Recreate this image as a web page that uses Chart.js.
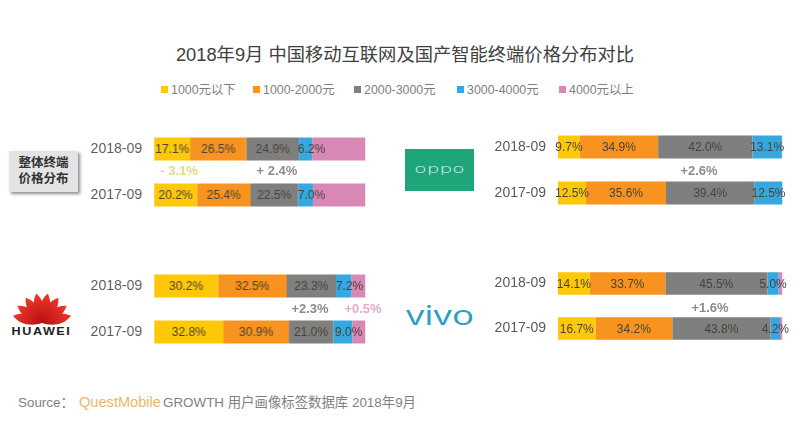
<!DOCTYPE html>
<html>
<head>
<meta charset="utf-8">
<script src="https://cdn.jsdelivr.net/npm/chart.js@4"></script>
<style>
    html, body { margin: 0; background: #fff; }
    body { position: relative; width: 800px; height: 422px; overflow: hidden; font-family: "Liberation Sans", "Noto Sans CJK SC", sans-serif; }
    .abs { position: absolute; white-space: nowrap; }
    .chartBox { position: absolute; height: 92px; }
    #title { left: 0; width: 810px; top: 43px; text-align: center; font-size: 18.3px; line-height: 24px; color: #404040; }
    #legend { left: 160px; top: 81px; font-size: 12.4px; line-height: 18px; color: #7f7f7f; }
    #legend span.item { position: absolute; top: 0; }
    #legend i { display: inline-block; width: 7px; height: 7px; margin-right: 3px; vertical-align: 1px; }
    .delta { transform: translateX(-50%); font-size: 13px; line-height: 16px; font-weight: bold; }
    #badge { left: 9px; top: 151px; width: 69px; height: 41px; background: #e4e4e4; box-shadow: 2px 2px 3px #8c8c8c; font-size: 12.5px; line-height: 16px; font-weight: bold; color: #333; text-align: center; padding-top: 4px; box-sizing: border-box; }
    #oppo { left: 405px; top: 149px; width: 69px; height: 42px; background: #1ea67a; }
    #oppo span { position: absolute; left: 0; width: 69px; top: 0; text-align: center; color: #dff3ec; font-size: 13px; line-height: 40px; font-family: "DejaVu Sans"; font-weight: 200; transform: scaleX(1.55); }
    #vivo { left: 406px; top: 297px; font-size: 27px; line-height: 36px; color: #2b9fc1; font-family: "Open Sans", sans-serif; font-weight: 400; letter-spacing: 0; transform: scaleX(1.36); transform-origin: left; }
    #huawei { left: 10px; top: 325px; width: 63px; text-align: center; font-size: 10.5px; line-height: 12px; font-weight: bold; color: #222; letter-spacing: 1.3px; transform: scaleX(1.2); }
    #source { left: 18px; top: 394px; font-size: 13.4px; line-height: 18px; color: #7f7f7f; }
    #source span { position: absolute; top: 0; }
    #source b { font-weight: normal; color: #e9b765; font-size: 14.6px; }
</style>
</head>
<body>
<div id="title" class="abs">2018年9月 中国移动互联网及国产智能终端价格分布对比</div>
<div id="legend" class="abs"></div>

<div id="badge" class="abs">整体终端<br>价格分布</div>
<div id="oppo" class="abs"><span>oppo</span></div>
<div id="vivo" class="abs">vivo</div>
<svg class="abs" style="left:10px;top:289px" width="64" height="36" viewBox="-32 -34 64 36">
    <defs>
        <linearGradient id="petal" x1="0" y1="0" x2="0" y2="1">
            <stop offset="0" stop-color="#f0382c"/>
            <stop offset="1" stop-color="#b80d12"/>
        </linearGradient>
    </defs>
    <g id="petals" fill="url(#petal)"></g>
</svg>
<div id="huawei" class="abs">HUAWEI</div>

<div class="chartBox" style="left:84px;top:125.5px;width:290.5px"><canvas id="chartAll"></canvas></div>
<div class="chartBox" style="left:487.5px;top:123.5px;width:304.5px"><canvas id="chartOppo"></canvas></div>
<div class="chartBox" style="left:84px;top:262.5px;width:290.5px"><canvas id="chartHuawei"></canvas></div>
<div class="chartBox" style="left:487.5px;top:260.5px;width:304.5px;height:90px"><canvas id="chartVivo"></canvas></div>

<div id="source" class="abs"><span style="left:0">Source：</span><span style="left:61px;top:-1px"><b>QuestMobile</b></span><span style="left:145px">GROWTH 用户画像标签数据库 2018年9月</span></div>

<script>
const periods = ['2018-09', '2017-09'];
const priceBands = ['1000元以下', '1000-2000元', '2000-3000元', '3000-4000元', '4000元以上'];
const bandColors = ['#ffc90a', '#f7931e', '#7f7f7f', '#35a8e0', '#d987b5'];

// one row per period, pink band has no printed label so it is read off the bar
const allValues = [[17.1, 26.5, 24.9, 6.2, 25.3], [20.2, 25.4, 22.5, 7.0, 24.9]];
const oppoValues = [[9.7, 34.9, 42.0, 13.1, 0.3], [12.5, 35.6, 39.4, 12.5, 0]];
const huaweiValues = [[30.2, 32.5, 23.3, 7.2, 6.8], [32.8, 30.9, 21.0, 9.0, 6.3]];
const vivoValues = [[14.1, 33.7, 45.5, 5.0, 1.7], [16.7, 34.2, 43.8, 4.2, 1.1]];

const deltas = [
    { text: '- 3.1%', x: 179, y: 163, color: '#e8d68a' },
    { text: '+ 2.4%', x: 277, y: 163, color: '#8c8c8c' },
    { text: '+2.6%', x: 699, y: 163, color: '#8c8c8c' },
    { text: '+2.3%', x: 310, y: 301, color: '#8c8c8c' },
    { text: '+0.5%', x: 363, y: 301, color: '#e6a9c6' },
    { text: '+1.6%', x: 710, y: 300, color: '#8c8c8c' }
];

const legendX = [1, 93, 194, 297, 399];
const legendEl = document.getElementById('legend');
priceBands.forEach((band, i) => {
    const item = document.createElement('span');
    item.className = 'item';
    item.style.left = legendX[i] + 'px';
    item.innerHTML = `<i style="background:${bandColors[i]}"></i>${band}`;
    legendEl.appendChild(item);
});

deltas.forEach(d => {
    const el = document.createElement('div');
    el.className = 'abs delta';
    el.textContent = d.text;
    el.style.left = d.x + 'px';
    el.style.top = d.y + 'px';
    el.style.color = d.color;
    document.body.appendChild(el);
});

// huawei logo petals
const petalAngles = [-76, -55, -33, -11, 11, 33, 55, 76];
document.getElementById('petals').innerHTML = petalAngles.map(a =>
    `<path transform="rotate(${a})" d="M0 0 C-6.5 -10 -6.5 -22 0 -30 C6.5 -22 6.5 -10 0 0 Z"/>`
).join('');

// prints the value inside each segment, pink is left empty like the original
const segmentLabels = {
    id: 'segmentLabels',
    afterDatasetsDraw(chart, args, opts) {
        const c = chart.ctx;
        c.save();
        c.font = '12px "Liberation Sans"';
        c.fillStyle = '#4a4238';
        c.textAlign = 'center';
        c.textBaseline = 'middle';
        chart.data.datasets.forEach((ds, i) => {
            if (i === 4) return;
            chart.getDatasetMeta(i).data.forEach((bar, j) => {
                const shift = i === 3 ? opts.blueShift : 0;
                c.fillText(ds.data[j].toFixed(1) + '%', bar.getCenterPoint().x + shift, bar.y + 1);
            });
        });
        c.restore();
    }
};

function renderPanel(canvasId, rows, blueShift) {
    new Chart(document.getElementById(canvasId), {
        type: 'bar',
        data: {
            labels: periods,
            datasets: priceBands.map((band, i) => ({
                label: band,
                data: rows.map(r => r[i]),
                backgroundColor: bandColors[i],
                borderWidth: 0,
                barPercentage: 0.5,
                categoryPercentage: 1
            }))
        },
        options: {
            indexAxis: 'y',
            responsive: true,
            maintainAspectRatio: false,
            animation: false,
            // room on the right for labels that run past the bar end
            layout: { padding: { right: 10 } },
            scales: {
                x: { stacked: true, min: 0, max: 100, display: false },
                y: {
                    stacked: true,
                    // fixed gutter so the bars start at the same x in each panel
                    afterFit: scale => {
                        scale.width = 70;
                        scale.paddingTop = 0;
                        scale.paddingBottom = 0;
                    },
                    grid: { display: false },
                    border: { display: false },
                    ticks: { color: '#595959', font: { size: 14, family: '"Liberation Sans"' }, padding: 4 }
                }
            },
            plugins: {
                legend: { display: false },
                tooltip: { enabled: false },
                segmentLabels: { blueShift: blueShift }
            }
        },
        plugins: [segmentLabels]
    });
}

renderPanel('chartAll', allValues, 6);
renderPanel('chartOppo', oppoValues, 0);
renderPanel('chartHuawei', huaweiValues, 6);
renderPanel('chartVivo', vivoValues, 0);
</script>
</body>
</html>
